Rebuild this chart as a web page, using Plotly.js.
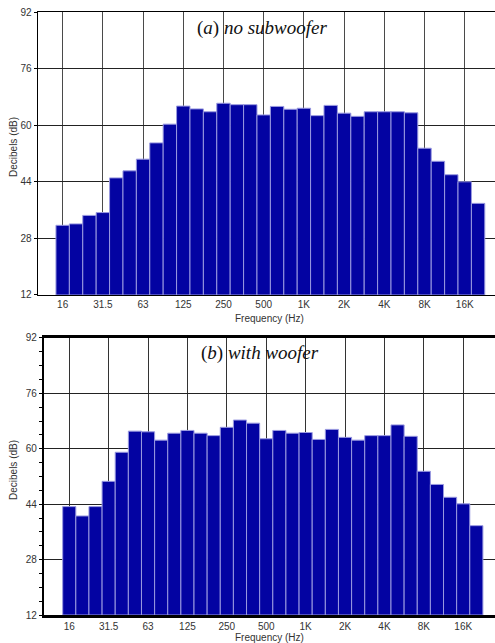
<!DOCTYPE html>
<html>
<head>
<meta charset="utf-8">
<script src="https://cdn.plot.ly/plotly-3.0.1.min.js"></script>
<style>html,body{margin:0;padding:0;background:#fff;}#chart{width:495px;height:643px;}</style>
</head>
<body>
<div id="chart"></div>
<script>
const bands = ['16','20','25','31.5','40','50','63','80','100','125','160','200','250','315','400','500','630','800','1K','1.25K','1.6K','2K','2.5K','3.15K','4K','5K','6.3K','8K','10K','12.5K','16K','20K'];
const tickLabels = ['16','31.5','63','125','250','500','1K','2K','4K','8K','16K'];
const noSubwoofer = [31.7,32.1,34.5,35.3,45.1,47.1,50.4,55.0,60.3,65.4,64.6,63.8,66.2,65.8,65.8,62.9,65.3,64.5,64.8,62.7,65.6,63.4,62.5,63.8,63.8,63.8,63.5,53.5,49.8,46.0,44.0,37.9];
const withWoofer = [43.3,40.6,43.3,50.6,59.0,65.1,64.9,62.5,64.5,65.3,64.5,63.8,66.2,68.3,67.4,62.9,65.3,64.5,64.7,62.7,65.6,63.3,62.5,63.8,63.8,66.9,63.6,53.5,49.7,46.0,44.1,37.8];
const yTicks = [12,28,44,60,76,92];

const barColor = '#0303a2';
const edgeColor = '#9a9ae0';
const tickFont = {family:'Liberation Sans, Arial, sans-serif', size:10, color:'#333'};

const traces = [
  {type:'bar', x:bands, y:noSubwoofer, xaxis:'x', yaxis:'y', base:12,
   marker:{color:barColor, line:{color:edgeColor, width:1}}, hoverinfo:'x+y'},
  {type:'bar', x:bands, y:withWoofer, xaxis:'x2', yaxis:'y2', base:12,
   marker:{color:barColor, line:{color:edgeColor, width:1}}, hoverinfo:'x+y'}
];
// bars start at 12 dB: convert values to heights above the baseline
traces[0].y = noSubwoofer.map(v => v - 12);
traces[1].y = withWoofer.map(v => v - 12);

const W = 457;
const layout = {
  width:495, height:643,
  margin:{l:38, r:0, t:12, b:28},
  paper_bgcolor:'#fff', plot_bgcolor:'#fff',
  showlegend:false, bargap:0,
  font:tickFont,
  xaxis:{domain:[0,1], anchor:'y', type:'category', range:[-1.84,32.26],
    tickmode:'array', tickvals:tickLabels, ticktext:tickLabels,
    showgrid:true, gridcolor:'#4a4a4a', gridwidth:1,
    showline:true, linecolor:'#000', linewidth:1.5, mirror:true,
    ticks:'', tickfont:tickFont, zeroline:false},
  yaxis:{domain:[0.5307,1], anchor:'x', range:[12,92],
    tickmode:'array', tickvals:yTicks,
    showgrid:true, gridcolor:'#222', gridwidth:1,
    showline:true, linecolor:'#000', linewidth:1.5,
    ticks:'outside', ticklen:3, tickcolor:'#000', tickfont:tickFont, zeroline:false},
  xaxis2:{domain:[(44.3-38)/W,1], anchor:'y2', type:'category', range:[-1.9,32.42],
    tickmode:'array', tickvals:tickLabels, ticktext:tickLabels,
    showgrid:true, gridcolor:'#333', gridwidth:1,
    showline:true, linecolor:'#000', linewidth:2.5, mirror:true,
    ticks:'', tickfont:tickFont, zeroline:false},
  yaxis2:{domain:[0,0.4594], anchor:'x2', range:[12,92],
    tickmode:'array', tickvals:yTicks,
    showgrid:true, gridcolor:'#222', gridwidth:1,
    showline:true, linecolor:'#000', linewidth:2.5,
    ticks:'outside', ticklen:3, tickcolor:'#000', tickfont:tickFont, zeroline:false,
    minor:{tickmode:'linear', tick0:12, dtick:4, ticks:'outside', ticklen:3, tickcolor:'#000', showgrid:false}},
  annotations:[
    {text:'(<i>a</i>) <i>no subwoofer</i>', xref:'paper', yref:'paper', x:(261.5-38)/W, y:(615-28)/603,
     showarrow:false, font:{family:'Liberation Serif, Times New Roman, serif', size:19, color:'#111'}, xanchor:'center', yanchor:'middle'},
    {text:'(<i>b</i>) <i>with woofer</i>', xref:'paper', yref:'paper', x:(260-38)/W, y:(615-353)/603,
     showarrow:false, font:{family:'Liberation Serif, Times New Roman, serif', size:19, color:'#111'}, xanchor:'center', yanchor:'middle'},
    {text:'Frequency (Hz)', xref:'paper', yref:'paper', x:(269-38)/W, y:(615-318)/603,
     showarrow:false, font:tickFont, xanchor:'center', yanchor:'middle'},
    {text:'Frequency (Hz)', xref:'paper', yref:'paper', x:(269-38)/W, y:(615-637)/603,
     showarrow:false, font:tickFont, xanchor:'center', yanchor:'middle'},
    {text:'Decibels (dB)', xref:'paper', yref:'paper', x:(13-38)/W, y:(615-147)/603, textangle:-90,
     showarrow:false, font:tickFont, xanchor:'center', yanchor:'middle'},
    {text:'Decibels (dB)', xref:'paper', yref:'paper', x:(13-38)/W, y:(615-470)/603, textangle:-90,
     showarrow:false, font:tickFont, xanchor:'center', yanchor:'middle'}
  ]
};
Plotly.newPlot('chart', traces, layout, {displayModeBar:false, staticPlot:true});
</script>
</body>
</html>
